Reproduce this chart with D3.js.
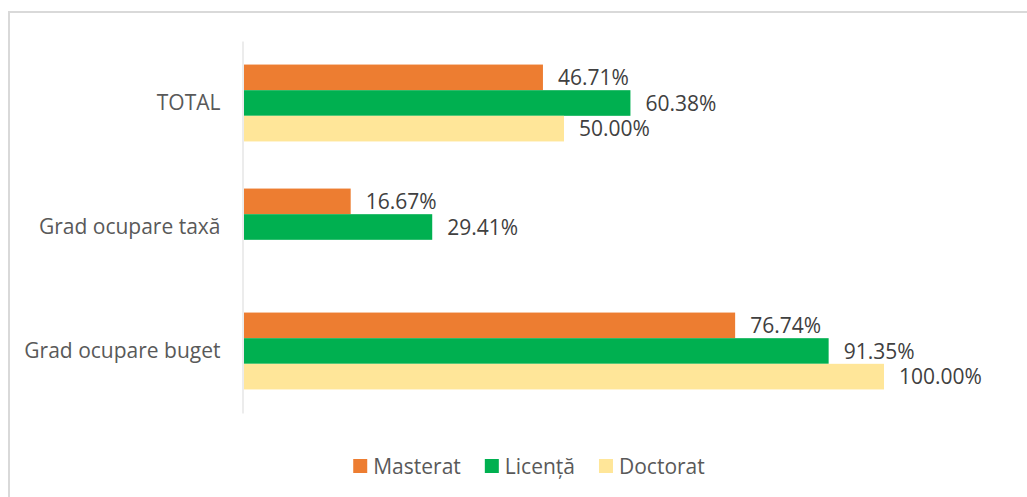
<!DOCTYPE html>
<html>
<head>
<meta charset="utf-8">
<script src="https://cdn.jsdelivr.net/npm/d3@7"></script>
<style>
  body { margin: 0; background: #fff; }
  svg { display: block; font-family: "Open Sans", sans-serif; }
</style>
</head>
<body>
<div class="canvas"></div>
<script>
const categories = ["TOTAL", "Grad ocupare taxă", "Grad ocupare buget"];
const seriesNames = ["Masterat", "Licență", "Doctorat"];
const masterat = [46.71, 16.67, 76.74];
const licenta = [60.38, 29.41, 91.35];
const doctorat = [50.0, null, 100.0];
const colors = ["#ED7D31", "#00B050", "#FFE699"];

const values = [masterat, licenta, doctorat];

const width = 1027;
const height = 497;
const fontSize = 21;

const svg = d3
  .select(".canvas")
  .append("svg")
  .attr("width", width)
  .attr("height", height);

// outer frame, runs off the right/bottom like the source
svg
  .append("rect")
  .attr("x", 9)
  .attr("y", 12)
  .attr("width", width + 20)
  .attr("height", height + 20)
  .attr("fill", "none")
  .attr("stroke", "#D9D9D9")
  .attr("stroke-width", 2);

const x = d3.scaleLinear().domain([0, 100]).range([244, 884]);
const y = d3
  .scaleBand()
  .domain(categories)
  .range([41, 413])
  .paddingInner(0.38)
  .paddingOuter(0.19);
const ySub = d3.scaleBand().domain(seriesNames).range([0, y.bandwidth()]);

const yAxis = d3.axisLeft(y).tickSize(0).tickPadding(22);

const axisG = svg
  .append("g")
  .attr("transform", "translate(242.5, 0)")
  .call(yAxis);
axisG.select(".domain").attr("stroke", "#D9D9D9").attr("stroke-width", 1);
axisG
  .selectAll("text")
  .attr("fill", "#595959")
  .style("font-size", fontSize + "px")
  .style("font-family", '"Open Sans", sans-serif');

const rows = [];
categories.forEach((c, ci) => {
  seriesNames.forEach((s, si) => {
    const v = values[si][ci];
    if (v !== null) rows.push({ cat: c, series: s, si: si, value: v });
  });
});

const bars = svg.append("g");
bars
  .selectAll("rect")
  .data(rows)
  .enter()
  .append("rect")
  .attr("x", x(0))
  .attr("y", (d) => y(d.cat) + ySub(d.series))
  .attr("width", (d) => x(d.value) - x(0))
  .attr("height", ySub.bandwidth())
  .attr("fill", (d) => colors[d.si]);

bars
  .selectAll("text")
  .data(rows)
  .enter()
  .append("text")
  .attr("x", (d) => x(d.value) + 15)
  .attr("y", (d) => y(d.cat) + ySub(d.series) + ySub.bandwidth() / 2)
  .attr("dy", "0.36em")
  .attr("fill", "#404040")
  .style("font-size", fontSize + "px")
  .text((d) => d.value.toFixed(2) + "%");

// legend, centred under the plot
const legend = svg.append("g");
const items = legend
  .selectAll("g")
  .data(seriesNames)
  .enter()
  .append("g");

items
  .append("rect")
  .attr("width", 14)
  .attr("height", 14)
  .attr("y", 459)
  .attr("fill", (d, i) => colors[i]);

items
  .append("text")
  .attr("x", 20)
  .attr("y", 466)
  .attr("dy", "0.36em")
  .attr("fill", "#595959")
  .style("font-size", fontSize + "px")
  .text((d) => d);

let offset = 0;
const widths = [];
items.each(function () {
  widths.push(d3.select(this).select("text").node().getComputedTextLength() + 20);
});
const total = d3.sum(widths) + 24 * (widths.length - 1);
offset = 529 - total / 2;
items.attr("transform", (d, i) => {
  const t = `translate(${offset}, 0)`;
  offset += widths[i] + 24;
  return t;
});
</script>
</body>
</html>
